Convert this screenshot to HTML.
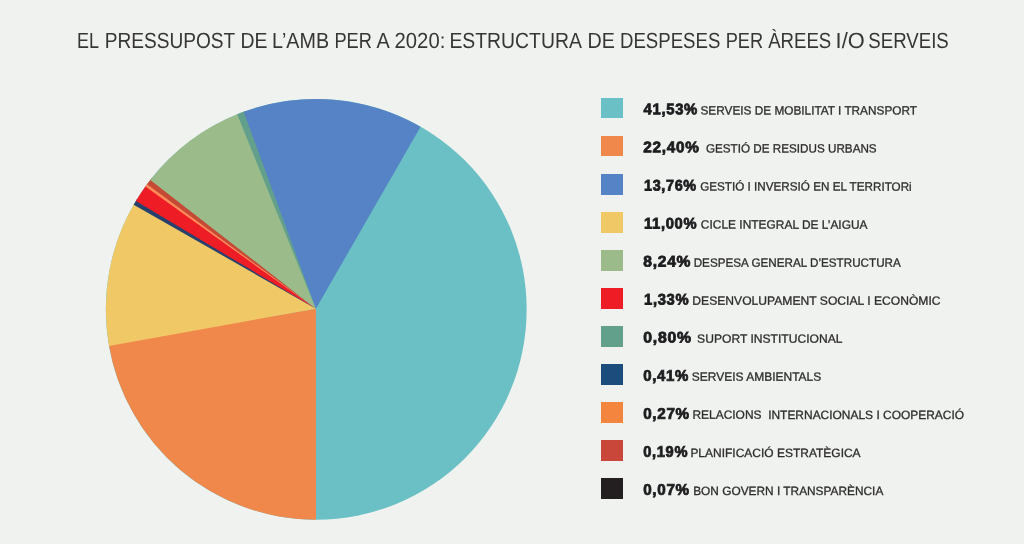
<!DOCTYPE html>
<html><head><meta charset="utf-8"><title>Pressupost AMB 2020</title>
<style>
html,body{margin:0;padding:0}
body{width:1024px;height:544px;background:#F0F2EF;position:relative;overflow:hidden;font-family:"Liberation Sans",sans-serif}
.t{position:absolute;left:0;top:0;font-size:22px;line-height:30px;color:#363636;white-space:nowrap;transform-origin:0 0}
svg{position:absolute;left:0;top:0}
.sw{position:absolute;left:601.1px;width:21.5px;height:20.8px}
.pc{position:absolute;left:0;top:0;font-size:15.3px;font-weight:700;color:#1d1d1f;line-height:20px;white-space:nowrap;transform-origin:0 0;-webkit-text-stroke:0.8px #1d1d1f;letter-spacing:0.7px}
.lb{position:absolute;left:0;top:0;font-size:12px;color:#2d2d2d;line-height:20px;white-space:nowrap;transform-origin:0 0;-webkit-text-stroke:0.3px #2d2d2d}
</style></head><body>
<span class="t" id="t0" style="transform:matrix(0.8171,0.0005,0,1,76.90,25.93)">EL</span>
<span class="t" id="t1" style="transform:matrix(0.8677,0.0005,0,1,104.77,25.93)">PRESSUPOST</span>
<span class="t" id="t2" style="transform:matrix(0.8835,0.0005,0,1,240.44,25.93)">DE</span>
<span class="t" id="t3" style="transform:matrix(0.8966,0.0005,0,1,272.06,25.93)">L’AMB</span>
<span class="t" id="t4" style="transform:matrix(0.8284,0.0005,0,1,334.39,25.93)">PER</span>
<span class="t" id="t5" style="transform:matrix(0.9029,0.0005,0,1,376.52,25.93)">A</span>
<span class="t" id="t6" style="transform:matrix(0.9208,0.0005,0,1,394.58,25.93)">2020:</span>
<span class="t" id="t7" style="transform:matrix(0.8805,0.0005,0,1,449.44,25.93)">ESTRUCTURA</span>
<span class="t" id="t8" style="transform:matrix(0.8963,0.0005,0,1,587.39,25.93)">DE</span>
<span class="t" id="t9" style="transform:matrix(0.8466,0.0005,0,1,619.95,25.93)">DESPESES</span>
<span class="t" id="t10" style="transform:matrix(0.8284,0.0005,0,1,725.71,25.93)">PER</span>
<span class="t" id="t11" style="transform:matrix(0.8462,0.0005,0,1,768.13,25.93)">ÀREES</span>
<span class="t" id="t12" style="transform:matrix(0.9925,0.0005,0,1,835.56,25.93)">I/O</span>
<span class="t" id="t13" style="transform:matrix(0.8481,0.0005,0,1,868.25,25.93)">SERVEIS</span>
<svg width="1024" height="544" viewBox="0 0 1024 544">
<circle cx="316.25" cy="309.35" r="210.40" fill="#6AC0C5"/>
<path d="M315.90 308.70L316.00 519.75A210.40 210.40 0 0 1 108.68 343.72Z" fill="#F0874B"/>
<path d="M315.90 308.70L109.05 345.89A210.40 210.40 0 0 1 134.78 202.87Z" fill="#F0C865"/>
<path d="M315.90 308.70L133.68 204.77A210.40 210.40 0 0 1 137.04 199.11Z" fill="#27416E"/>
<path d="M315.90 308.70L135.90 201.00A210.40 210.40 0 0 1 146.65 184.84Z" fill="#EE1C25"/>
<path d="M315.90 308.70L145.35 186.62A210.40 210.40 0 0 1 148.34 182.56Z" fill="#FF8A5A"/>
<path d="M315.90 308.70L147.03 184.32A210.40 210.40 0 0 1 151.66 178.29Z" fill="#C44A35"/>
<path d="M315.90 308.70L150.29 180.02A210.40 210.40 0 0 1 239.23 113.55Z" fill="#9BBB8A"/>
<path d="M315.90 308.70L237.18 114.37A210.40 210.40 0 0 1 245.77 111.11Z" fill="#62A08C"/>
<path d="M315.90 308.70L243.70 111.85A210.40 210.40 0 0 1 420.56 126.63Z" fill="#5583C5"/>
</svg>
<div class="sw" style="top:97.6px;background:#6AC0C5"></div>
<div class="pc" id="p0" style="transform:matrix(0.9709,0.0005,0,1,643.55,99.30)">41,53%</div>
<div class="lb" id="l0" style="transform:matrix(0.9837,0.0005,0,1,700.50,100.44)">SERVEIS DE MOBILITAT I TRANSPORT</div>
<div class="sw" style="top:135.7px;background:#F0874B"></div>
<div class="pc" id="p1" style="transform:matrix(1.0023,0.0005,0,1,643.32,137.35)">22,40%</div>
<div class="lb" id="l1" style="transform:matrix(0.9737,0.0005,0,1,705.91,138.49)">GESTIÓ DE RESIDUS URBANS</div>
<div class="sw" style="top:173.8px;background:#5583C5"></div>
<div class="pc" id="p2" style="transform:matrix(0.9405,0.0005,0,1,644.04,175.40)">13,76%</div>
<div class="lb" id="l2" style="transform:matrix(0.9741,0.0005,0,1,700.17,176.54)">GESTIÓ I INVERSIÓ EN EL TERRITORi</div>
<div class="sw" style="top:211.8px;background:#F0C865"></div>
<div class="pc" id="p3" style="transform:matrix(0.9623,0.0005,0,1,643.99,213.45)">11,00%</div>
<div class="lb" id="l3" style="transform:matrix(0.9945,0.0005,0,1,700.87,214.59)">CICLE INTEGRAL DE L’AIGUA</div>
<div class="sw" style="top:249.9px;background:#9BBB8A"></div>
<div class="pc" id="p4" style="transform:matrix(1.0203,0.0005,0,1,643.33,251.50)">8,24%</div>
<div class="lb" id="l4" style="transform:matrix(0.9728,0.0005,0,1,693.67,252.64)">DESPESA GENERAL D’ESTRUCTURA</div>
<div class="sw" style="top:288.0px;background:#EE1C25"></div>
<div class="pc" id="p5" style="transform:matrix(0.9665,0.0005,0,1,643.98,289.55)">1,33%</div>
<div class="lb" id="l5" style="transform:matrix(1.0097,0.0005,0,1,692.35,290.69)">DESENVOLUPAMENT SOCIAL I ECONÒMIC</div>
<div class="sw" style="top:326.1px;background:#62A08C"></div>
<div class="pc" id="p6" style="transform:matrix(1.0334,0.0005,0,1,643.36,327.60)">0,80%</div>
<div class="lb" id="l6" style="transform:matrix(1.0080,0.0005,0,1,697.10,328.74)">SUPORT INSTITUCIONAL</div>
<div class="sw" style="top:364.2px;background:#1C4C7C"></div>
<div class="pc" id="p7" style="transform:matrix(0.9786,0.0005,0,1,643.20,365.65)">0,41%</div>
<div class="lb" id="l7" style="transform:matrix(0.9985,0.0005,0,1,691.84,366.79)">SERVEIS AMBIENTALS</div>
<div class="sw" style="top:402.2px;background:#F3853F"></div>
<div class="pc" id="p8" style="transform:matrix(0.9951,0.0005,0,1,643.17,403.70)">0,27%</div>
<div class="lb" id="l8" style="transform:matrix(0.9961,0.0005,0,1,692.42,404.84)">RELACIONS&nbsp; INTERNACIONALS I COOPERACIÓ</div>
<div class="sw" style="top:440.3px;background:#C8463A"></div>
<div class="pc" id="p9" style="transform:matrix(0.9589,0.0005,0,1,643.22,441.75)">0,19%</div>
<div class="lb" id="l9" style="transform:matrix(0.9986,0.0005,0,1,690.38,442.89)">PLANIFICACIÓ ESTRATÈGICA</div>
<div class="sw" style="top:478.4px;background:#231F20"></div>
<div class="pc" id="p10" style="transform:matrix(0.9951,0.0005,0,1,643.17,479.80)">0,07%</div>
<div class="lb" id="l10" style="transform:matrix(0.9891,0.0005,0,1,693.17,480.94)">BON GOVERN I TRANSPARÈNCIA</div>
</body></html>
